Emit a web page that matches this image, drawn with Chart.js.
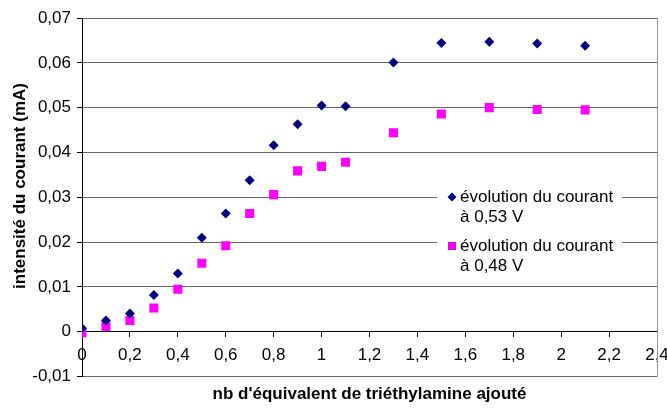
<!DOCTYPE html>
<html>
<head>
<meta charset="utf-8">
<script src="https://cdn.jsdelivr.net/npm/chart.js@4/dist/chart.umd.min.js"></script>
<style>
  html, body { margin: 0; padding: 0; background: #fff; }
  #wrap { width: 667px; height: 410px; }
</style>
</head>
<body>
<div id="wrap"><canvas id="courbe"></canvas></div>
<script>
// nb d'équivalent de triéthylamine ajouté
var equivalents = [0, 0.1, 0.2, 0.3, 0.4, 0.5, 0.6, 0.7, 0.8, 0.9, 1.0, 1.1, 1.3, 1.5, 1.7, 1.9, 2.1];
// courant à 0,53 V (mA)
var courant053 = [0.0008, 0.0025, 0.0041, 0.0082, 0.013, 0.021, 0.0264, 0.0338, 0.0416, 0.0463, 0.0505, 0.0503, 0.0601, 0.0644, 0.0647, 0.0643, 0.0638];
// courant à 0,48 V (mA)
var courant048 = [-0.0002, 0.0012, 0.0025, 0.0053, 0.0095, 0.0153, 0.0192, 0.0264, 0.0306, 0.0359, 0.0369, 0.0378, 0.0444, 0.0486, 0.0500, 0.0496, 0.0495];

var labels053 = ['évolution du courant', 'à 0,53 V'];
var labels048 = ['évolution du courant', 'à 0,48 V'];
var xTitle = "nb d'équivalent de triéthylamine ajouté";
var yTitle = 'intensité du courant (mA)';

var police = 'Arial, "Liberation Sans", sans-serif';

function toPoints(xs, ys) {
    return xs.map(function (x, i) { return { x: x, y: ys[i] }; });
}

function virgule(v, dec) {
    var s = Number(v.toFixed(dec)).toString();
    return s.replace('.', ',');
}

// legende dans la zone de tracé, sur fond blanc
var legendeInterne = {
    id: 'legendeInterne',
    afterDatasetsDraw: function (chart) {
        var ctx = chart.ctx;
        ctx.save();
        ctx.fillStyle = '#fff';
        ctx.fillRect(437, 183, 185, 93);
        ctx.font = '17px ' + police;
        ctx.textBaseline = 'middle';
        ctx.textAlign = 'left';
        var y0 = 197;
        chart.data.datasets.forEach(function (ds, i) {
            var y = y0 + i * 49;
            Chart.helpers.drawPoint(ctx, {
                pointStyle: ds.pointStyle,
                radius: ds.pointStyle === 'rect' ? 5.5 : 4.5,
                rotation: 0,
                borderWidth: 0
            }, 452, y);
            ctx.fillStyle = ds.backgroundColor;
            ctx.fill();
            ctx.fillStyle = '#000';
            ds.label.forEach(function (ligne, k) {
                ctx.fillText(ligne, 460, y + k * 20);
            });
        });
        ctx.restore();
    },
    beforeDatasetsDraw: function (chart) {
        var a = chart.chartArea;
        var ctx = chart.ctx;
        ctx.save();
        ctx.strokeStyle = '#999';
        ctx.lineWidth = 1;
        ctx.beginPath();
        ctx.moveTo(Math.round(a.right) + 0.5, a.top);
        ctx.lineTo(Math.round(a.right) + 0.5, a.bottom);
        ctx.stroke();
        ctx.restore();
    },
    afterDraw: function (chart) {
        var a = chart.chartArea;
        var ctx = chart.ctx;
        ctx.save();
        ctx.font = 'bold 17px ' + police;
        ctx.fillStyle = '#000';
        ctx.textAlign = 'center';
        ctx.textBaseline = 'middle';
        ctx.translate(20, 186);
        ctx.rotate(-Math.PI / 2);
        ctx.fillText(yTitle, 0, 0);
        ctx.restore();
    }
};

var ctx = document.getElementById('courbe');
var myChart = new Chart(ctx, {
    type: 'scatter',
    data: {
        datasets: [{
            label: labels053,
            data: toPoints(equivalents, courant053),
            pointStyle: 'rectRot',
            pointRadius: 5,
            pointHoverRadius: 5,
            borderWidth: 0,
            backgroundColor: '#000080',
            borderColor: '#000080'
        }, {
            label: labels048,
            data: toPoints(equivalents, courant048),
            pointStyle: 'rect',
            pointRadius: 6.4,
            pointHoverRadius: 6.4,
            borderWidth: 0,
            backgroundColor: '#FF00FF',
            borderColor: '#FF00FF'
        }]
    },
    options: {
        responsive: true,
        maintainAspectRatio: false,
        animation: false,
        layout: {
            padding: { left: 0, right: 10, top: 18, bottom: 0 }
        },
        scales: {
            x: {
                type: 'linear',
                position: { y: 0 },
                min: 0,
                max: 2.4,
                afterFit: function (s) {
                    s.height = 0;
                    s.paddingLeft = 0;
                    s.paddingRight = 0;
                },
                ticks: {
                    stepSize: 0.2,
                    color: '#000',
                    padding: 8,
                    maxRotation: 0,
                    autoSkip: false,
                    font: { family: police, size: 17 },
                    callback: function (v) { return virgule(v, 1); }
                },
                grid: {
                    display: true,
                    drawOnChartArea: false,
                    drawTicks: true,
                    tickLength: 5,
                    color: '#000'
                },
                border: { display: true, color: '#000', width: 1 }
            },
            y: {
                min: -0.01,
                max: 0.07,
                afterFit: function (s) { s.width = 82; },
                ticks: {
                    stepSize: 0.01,
                    color: '#000',
                    padding: 6,
                    font: { family: police, size: 17 },
                    callback: function (v) { return Math.abs(v) < 1e-9 ? '0' : virgule(v, 2); }
                },
                grid: {
                    color: '#666',
                    tickColor: '#000',
                    tickLength: 5
                },
                border: { display: true, color: '#000', width: 1 }
            }
        },
        plugins: {
            legend: { display: false },
            tooltip: { enabled: false },
            title: {
                display: true,
                text: xTitle,
                position: 'bottom',
                fullSize: false,
                color: '#000',
                font: { family: police, size: 17, weight: 'bold' },
                padding: { top: 8, bottom: 5 }
            }
        }
    },
    plugins: [legendeInterne]
});
</script>
</body>
</html>
